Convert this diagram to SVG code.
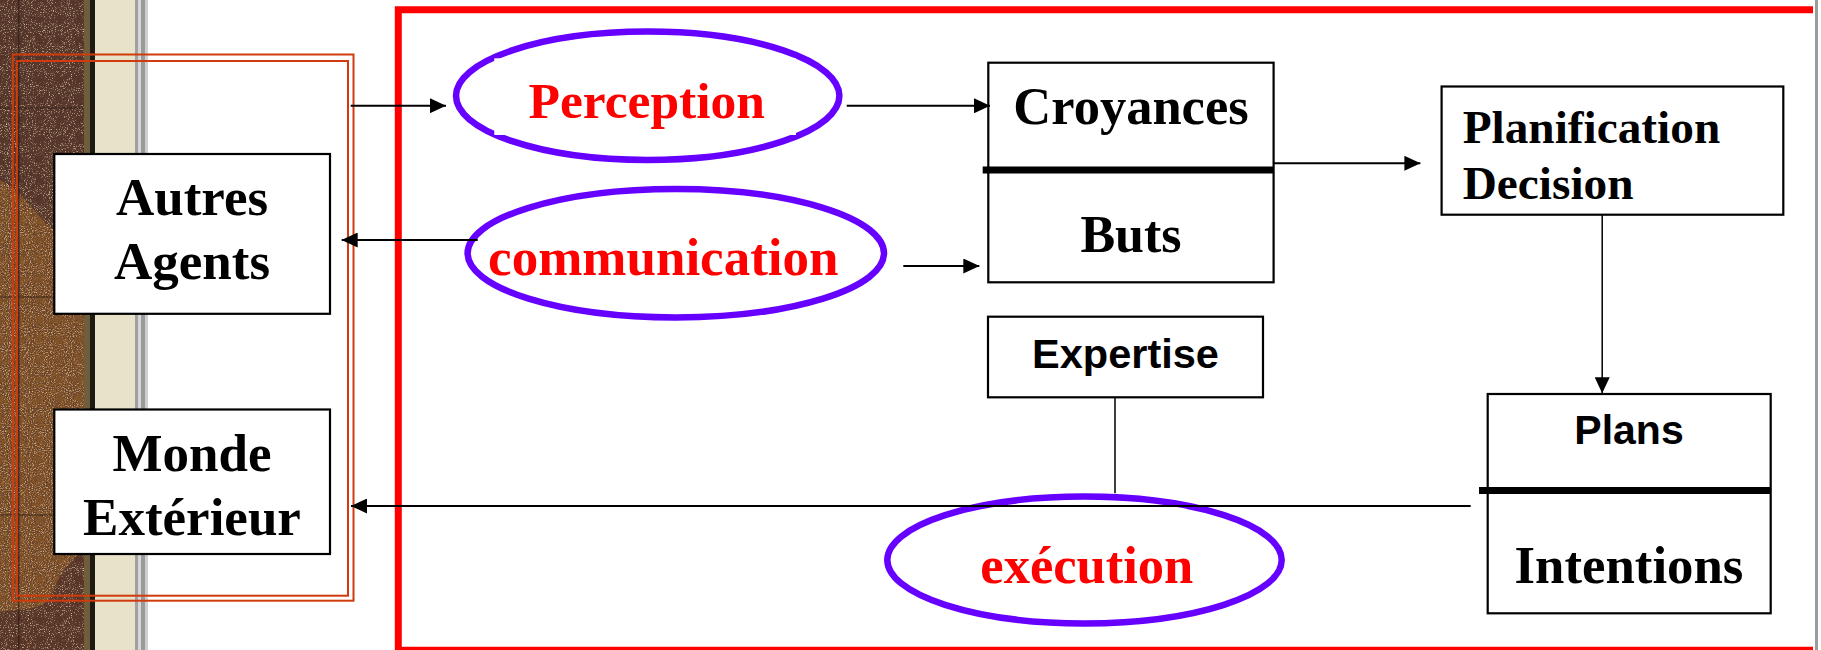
<svg xmlns="http://www.w3.org/2000/svg" width="1821" height="650" viewBox="0 0 1821 650">
  <defs>
    <style>
      .box { fill: #ffffff; stroke: #000000; stroke-width: 2.2; }
      .bar { fill: #000000; }
      .oval { fill: none; stroke: #6600FF; stroke-width: 6.5; }
      .conn { fill: none; stroke: #000000; stroke-width: 2; }
      .thin { fill: none; stroke: #000000; stroke-width: 1.5; }
      .serif { font-family: "Liberation Serif", "Times New Roman", serif; font-weight: bold; font-variant-ligatures: none; }
      .sans { font-family: "Liberation Sans", Arial, sans-serif; font-weight: bold; }
      .black { fill: #000000; }
      .red { fill: #FF0000; }
      .frame { fill: none; stroke: #D03A0C; stroke-width: 2; }
    </style>
    <marker id="arrow" markerUnits="userSpaceOnUse" markerWidth="16" markerHeight="15" refX="16" refY="7.5" orient="auto">
      <path d="M0,0 L16,7.5 L0,15 Z" fill="#000000"/>
    </marker>
    <!-- speckled grain for the textured strip -->
    <filter id="grain" x="0" y="0" width="100%" height="100%">
      <feTurbulence type="fractalNoise" baseFrequency="0.95" numOctaves="2" seed="7" result="noise"/>
      <feColorMatrix in="noise" type="matrix" values="0 0 0 0 0.10  0 0 0 0 0.05  0 0 0 0 0.03  0 0 0 -3.2 1.9" result="dark"/>
      <feComposite in="dark" in2="SourceGraphic" operator="in" result="speckle"/>
      <feColorMatrix in="noise" type="matrix" values="0 0 0 0 0.78  0 0 0 0 0.55  0 0 0 0 0.35  0 0 0 3.0 -1.75" result="light"/>
      <feComposite in="light" in2="SourceGraphic" operator="in" result="glint"/>
      <feMerge>
        <feMergeNode in="SourceGraphic"/>
        <feMergeNode in="speckle"/>
        <feMergeNode in="glint"/>
      </feMerge>
    </filter>
    <clipPath id="stripClip">
      <rect x="0" y="0" width="84" height="650"/>
    </clipPath>
  </defs>

  <!-- page background -->
  <rect x="0" y="0" width="1821" height="650" fill="#ffffff"/>

  <!-- textured side strip -->
  <g id="side-strip">
    <g clip-path="url(#stripClip)" filter="url(#grain)">
      <rect x="0" y="0" width="84" height="650" fill="#8C5A2C"/>
      <path d="M0,0 H84 V250 C70,245 50,230 30,205 C20,195 10,185 0,180 Z" fill="#55302A"/>
      <path d="M84,550 C72,558 58,575 50,598 C40,612 20,608 0,612 V650 H84 Z" fill="#5A3328"/>
    </g>
    <g stroke="#2a1a12" stroke-width="1.2" opacity="0.8">
      <line x1="0" y1="108" x2="84" y2="108"/>
      <line x1="0" y1="297" x2="84" y2="297"/>
      <line x1="0" y1="515" x2="84" y2="515"/>
      <line x1="18.8" y1="0" x2="18.8" y2="650"/>
    </g>
    <rect x="84" y="0" width="6" height="650" fill="#6E5E3C"/>
    <rect x="90" y="0" width="5" height="650" fill="#1C1A12"/>
    <rect x="95" y="0" width="40" height="650" fill="#E8E2C8"/>
    <rect x="135" y="0" width="3" height="650" fill="#A0A0A0"/>
    <rect x="138" y="0" width="3" height="650" fill="#D6D6D6"/>
    <rect x="141" y="0" width="4" height="650" fill="#9A9A9A"/>
    <rect x="145" y="0" width="3" height="650" fill="#CFCFCF"/>
  </g>

  <!-- window edge on the right -->
  <rect x="1815" y="0" width="3" height="650" fill="#9C9C9C"/>

  <!-- outer environment frame (double line) -->
  <g id="environment-frame">
    <rect class="frame" x="12.8" y="54.5" width="340.7" height="546.2"/>
    <rect class="frame" x="16.8" y="61" width="331.2" height="534.7"/>
  </g>

  <!-- agent boundary -->
  <path id="agent-boundary" d="M1813,9.7 H398.3 V650.3 H1813" fill="none" stroke="#FF0000" stroke-width="7"/>

  <!-- environment nodes -->
  <g id="autres-agents">
    <rect class="box" x="54.3" y="154" width="275.7" height="159.8"/>
    <text class="serif black" font-size="53" text-anchor="middle" x="192" y="214.8">Autres</text>
    <text class="serif black" font-size="53" text-anchor="middle" x="192" y="278.6">Agents</text>
  </g>
  <g id="monde-exterieur">
    <rect class="box" x="54.3" y="409.5" width="275.7" height="144.5"/>
    <text class="serif black" font-size="53" text-anchor="middle" x="192" y="471.4">Monde</text>
    <text class="serif black" font-size="53" text-anchor="middle" x="192" y="534.8">Extérieur</text>
  </g>

  <!-- processes (ovals) -->
  <g id="perception">
    <ellipse class="oval" cx="647.7" cy="95.8" rx="191.7" ry="64.2"/>
    <rect x="494.3" y="58.3" width="301.7" height="76.7" fill="#ffffff"/>
    <text class="serif red" font-size="51.5" text-anchor="middle" x="646.7" y="118.3">Perception</text>
  </g>
  <g id="communication">
    <ellipse class="oval" cx="675.8" cy="253.2" rx="208.2" ry="64.2"/>
    <text class="serif red" font-size="53" text-anchor="middle" x="663.3" y="275">communication</text>
  </g>
  <g id="execution">
    <ellipse class="oval" cx="1084.5" cy="560" rx="197.2" ry="63.4"/>
    <text class="serif red" font-size="52.5" text-anchor="middle" x="1086.8" y="582.7">exécution</text>
  </g>

  <!-- knowledge nodes -->
  <g id="croyances-buts">
    <rect class="box" x="988.3" y="62.7" width="285.3" height="219.6"/>
    <rect class="bar" x="982.7" y="166.5" width="290.9" height="7"/>
    <text class="serif black" font-size="52.5" text-anchor="middle" x="1131" y="124">Croyances</text>
    <text class="serif black" font-size="52" text-anchor="middle" x="1131" y="251.7">Buts</text>
  </g>
  <g id="planification-decision">
    <rect class="box" x="1441.6" y="86.5" width="341.7" height="128.2"/>
    <text class="serif black" font-size="47.3" x="1462.7" y="142.7">Planification</text>
    <text class="serif black" font-size="47.3" x="1462.7" y="199.3">Decision</text>
  </g>
  <g id="expertise">
    <rect class="box" x="988" y="316.7" width="275" height="80.6"/>
    <text class="sans black" font-size="41.5" text-anchor="middle" x="1125.5" y="367.7">Expertise</text>
  </g>
  <g id="plans-intentions">
    <rect class="box" x="1487.7" y="394" width="283" height="219.3"/>
    <rect class="bar" x="1479" y="487" width="291.7" height="7"/>
    <text class="sans black" font-size="41" text-anchor="middle" x="1629" y="444">Plans</text>
    <text class="serif black" font-size="52.8" text-anchor="middle" x="1629" y="582.7">Intentions</text>
  </g>

  <!-- connectors -->
  <g id="connectors">
    <line class="conn" x1="350.7" y1="105.7" x2="446" y2="105.7" marker-end="url(#arrow)"/>
    <line class="conn" x1="846.7" y1="105.8" x2="990" y2="105.8" marker-end="url(#arrow)"/>
    <line class="conn" x1="477.7" y1="240" x2="341.7" y2="240" marker-end="url(#arrow)"/>
    <line class="conn" x1="903.3" y1="266" x2="979.3" y2="266" marker-end="url(#arrow)"/>
    <line class="conn" x1="1273.6" y1="163.3" x2="1420.4" y2="163.3" marker-end="url(#arrow)"/>
    <line class="thin" x1="1602.2" y1="214.7" x2="1602.2" y2="393.3" marker-end="url(#arrow)"/>
    <line class="conn" x1="1470.7" y1="506" x2="351" y2="506" marker-end="url(#arrow)"/>
    <line class="thin" x1="1115" y1="397.3" x2="1115" y2="493.3"/>
  </g>
</svg>
